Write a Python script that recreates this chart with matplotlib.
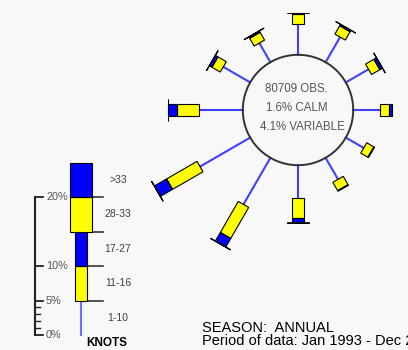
import numpy as np
import matplotlib.pyplot as plt
from matplotlib.patches import Polygon, Circle

plt.rcParams['font.family'] = ['Liberation Sans', 'DejaVu Sans']

# wind direction (deg from north) and % frequency for each speed class (knots)
directions = [0, 30, 60, 90, 120, 150, 180, 210, 240, 270, 300, 330]
pct_1_10 = [4.5, 4.2, 3.8, 3.9, 3.0, 3.6, 4.8, 7.8, 8.4, 6.4, 4.5, 3.2]
pct_11_16 = [1.4, 1.4, 1.4, 1.3, 1.2, 1.4, 2.8, 5.2, 5.1, 3.2, 1.4, 1.3]
pct_17_27 = [0.15, 0.2, 0.4, 0.4, 0.1, 0.1, 0.7, 1.4, 2.0, 1.2, 0.4, 0.2]
pct_28_33 = [0.04, 0.04, 0.04, 0.0, 0.0, 0.0, 0.04, 0.05, 0.05, 0.04, 0.04, 0.04]
pct_gt33 = [0.02, 0.02, 0.02, 0.0, 0.0, 0.0, 0.02, 0.03, 0.03, 0.02, 0.02, 0.02]

speed_labels = ['1-10', '11-16', '17-27', '28-33', '>33']
legend_pct = [5, 5, 5, 5, 5]
scale_ticks = [0, 5, 10, 20]
scale_minor = [1, 2, 3, 4]

n_obs = 80709
calm_pct = 1.6
variable_pct = 4.1
season = 'ANNUAL'
period = 'Jan 1993 - Dec 2002'

# --- styling / layout (data units are percent) ---
YELLOW = '#ffff00'
BLUE = '#0000ff'
LINE_BLUE = '#4040ff'
class_colors = [None, YELLOW, BLUE, YELLOW, BLUE]
NARROW = 0.87
WIDE = 1.65
class_halfw = [0, NARROW, NARROW, WIDE, WIDE]
CALM_R = 8.0
PX = 6.9  # pixels per percent


def segment(theta, r0, r1, hw, color, lw=0.8):
    u = np.array([np.sin(theta), np.cos(theta)])
    v = np.array([np.cos(theta), -np.sin(theta)])
    pts = [r0 * u + hw * v, r1 * u + hw * v, r1 * u - hw * v, r0 * u - hw * v]
    return Polygon(pts, closed=True, fc=color, ec='black', lw=lw, zorder=3)


fig = plt.figure(figsize=(4.08, 3.5), dpi=100)
fig.patch.set_facecolor('#f8f8f8')
ax = fig.add_axes([0, 0, 1, 1])
ax.set_xlim(-298 / PX, 110 / PX)
ax.set_ylim(-240 / PX, 110 / PX)
ax.axis('off')

# --- rose ---
classes = [pct_1_10, pct_11_16, pct_17_27, pct_28_33, pct_gt33]
for i, d in enumerate(directions):
    th = np.radians(d)
    r = CALM_R
    for k, vals in enumerate(classes):
        p = vals[i]
        if k == 0:
            ax.plot([r * np.sin(th), (r + p) * np.sin(th)],
                    [r * np.cos(th), (r + p) * np.cos(th)],
                    color=LINE_BLUE, lw=1.5, zorder=2)
        elif p > 0:
            lw = 0.8 if k < 3 else 0.6
            ax.add_patch(segment(th, r, r + p, class_halfw[k], class_colors[k], lw))
        r += p

ax.add_patch(Circle((0, 0), CALM_R, fill=False, ec='#333333', lw=1.4, zorder=4))
ax.text(-0.3, 3.0, f'{n_obs} OBS.', ha='center', va='center', fontsize=8.3, color='#555555')
ax.text(-0.15, 0.3, f'{calm_pct}% CALM', ha='center', va='center', fontsize=8.3, color='#555555')
ax.text(0.6, -2.5, f'{variable_pct}% VARIABLE', ha='center', va='center', fontsize=8.3, color='#555555')

# --- legend ---
LEG_X = (81 - 298) / PX
LEG_Y0 = -(335 - 110) / PX
SCALE_X = (35 - 298) / PX
TICK_END = (103 - 298) / PX
LABEL_X = (118 - 298) / PX

y = LEG_Y0
for k, p in enumerate(legend_pct):
    if k == 0:
        ax.plot([LEG_X, LEG_X], [y, y + p], color='#7070ff', lw=1.5, zorder=2)
    else:
        ax.add_patch(Polygon([(LEG_X - class_halfw[k], y), (LEG_X + class_halfw[k], y),
                              (LEG_X + class_halfw[k], y + p), (LEG_X - class_halfw[k], y + p)],
                             closed=True, fc=class_colors[k], ec='black', lw=0.8, zorder=3))
    ax.text(LABEL_X, y + p / 2, speed_labels[k], ha='center', va='center',
            fontsize=7.5, color='#404040')
    if k < len(legend_pct) - 1:
        ax.plot([LEG_X, TICK_END], [y + p, y + p], color='#222222', lw=1.1, zorder=1)
    y += p

ax.plot([SCALE_X, SCALE_X], [LEG_Y0, LEG_Y0 + max(scale_ticks)], color='#222222', lw=1.5)
for t in scale_ticks:
    ax.plot([SCALE_X, SCALE_X + 1.2], [LEG_Y0 + t, LEG_Y0 + t], color='#222222', lw=1.3)
    ax.text(SCALE_X + 1.6, LEG_Y0 + t, f'{t}%', ha='left', va='center',
            fontsize=7.8, color='#555555')
for t in scale_minor:
    ax.plot([SCALE_X, SCALE_X + 0.75], [LEG_Y0 + t, LEG_Y0 + t], color='#222222', lw=1.0)

ax.text((107 - 298) / PX, -(343 - 110) / PX, 'KNOTS', ha='center', va='center',
        fontsize=8.5, fontweight='bold', color='black')

# --- footer (cut off at the right edge, as in the original) ---
ax.text((202 - 298) / PX, -(328 - 110) / PX, f'SEASON:  {season}', ha='left', va='center',
        fontsize=10.5, color='black')
ax.text((202 - 298) / PX, -(341 - 110) / PX, f'Period of data: {period}', ha='left', va='center',
        fontsize=10.5, color='black')

fig.savefig('out.png', dpi=100, facecolor=fig.get_facecolor())
